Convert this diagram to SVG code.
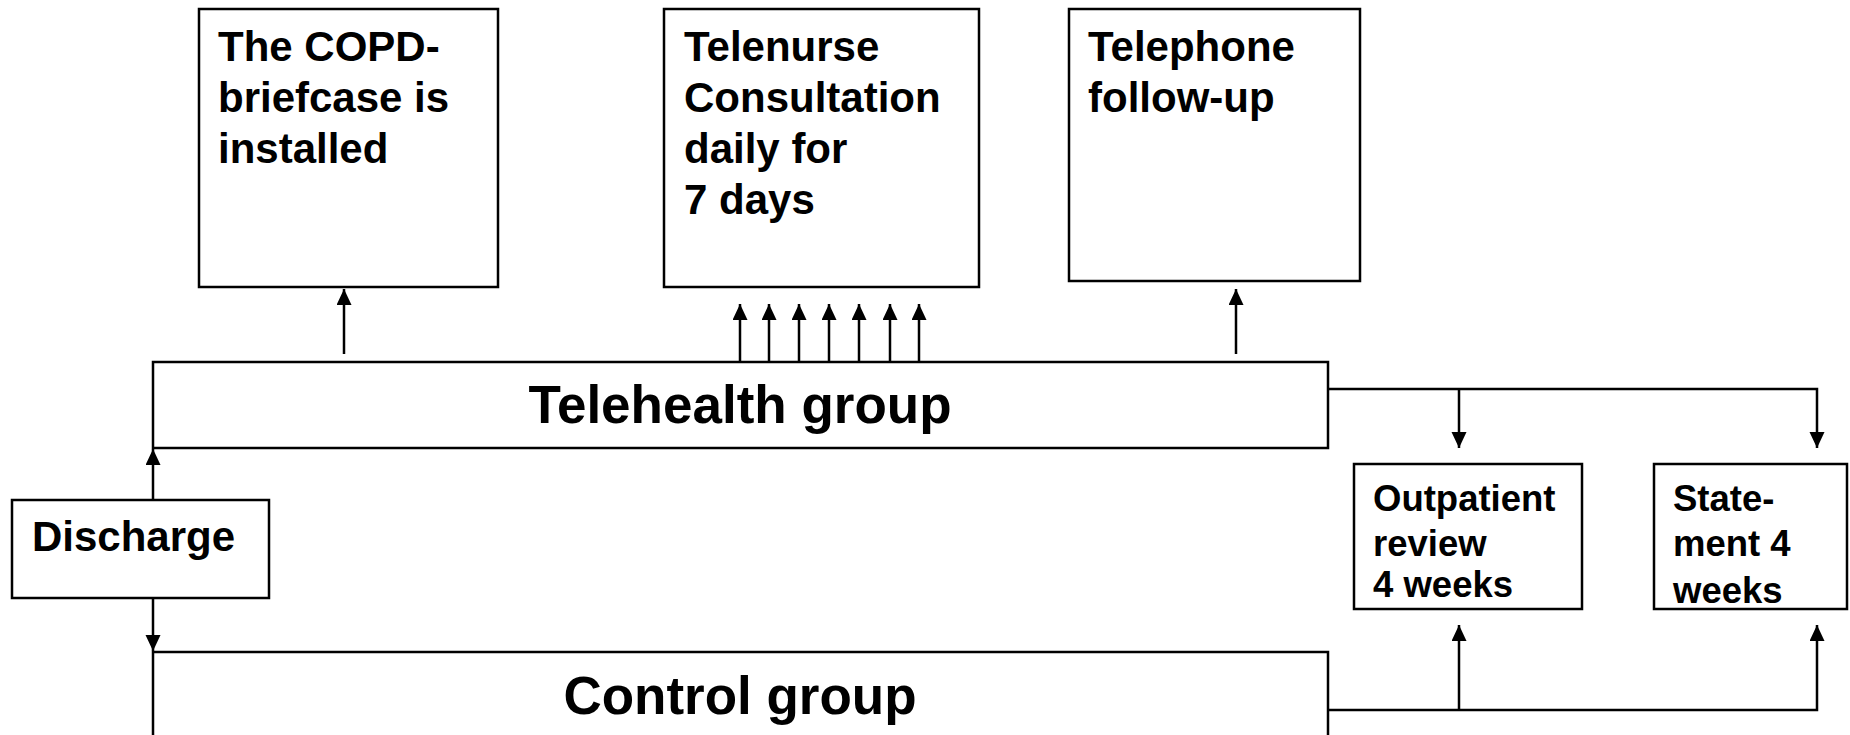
<svg xmlns="http://www.w3.org/2000/svg" width="1850" height="735" viewBox="0 0 1850 735">
<style>
.box{fill:#fff;stroke:#000;stroke-width:2.5}
.t{font-family:"Liberation Sans",Arial,sans-serif;font-weight:bold;fill:#000}
.big{font-size:53px}
.mid{font-size:42px}
.sm{font-size:36.5px}
.c{fill:none;stroke:#000;stroke-width:2.5}
</style>
<defs>
<marker id="ah" markerUnits="userSpaceOnUse" markerWidth="16" markerHeight="16" viewBox="0 0 16 16" refX="16" refY="7.5" orient="auto">
<path d="M0,0 L16,7.5 L0,15 z" fill="#000"/>
</marker>
</defs>
<rect width="1850" height="735" fill="#fff"/>
<g id="connectors">
<line class="c" x1="344" y1="354" x2="344" y2="289" marker-end="url(#ah)"/>
<line class="c" x1="740" y1="362" x2="740" y2="304" marker-end="url(#ah)"/>
<line class="c" x1="769" y1="362" x2="769" y2="304" marker-end="url(#ah)"/>
<line class="c" x1="799" y1="362" x2="799" y2="304" marker-end="url(#ah)"/>
<line class="c" x1="829" y1="362" x2="829" y2="304" marker-end="url(#ah)"/>
<line class="c" x1="859" y1="362" x2="859" y2="304" marker-end="url(#ah)"/>
<line class="c" x1="890" y1="362" x2="890" y2="304" marker-end="url(#ah)"/>
<line class="c" x1="919" y1="362" x2="919" y2="304" marker-end="url(#ah)"/>
<line class="c" x1="1236" y1="354" x2="1236" y2="289" marker-end="url(#ah)"/>
<polyline class="c" points="1328,389 1817,389 1817,448" marker-end="url(#ah)"/>
<line class="c" x1="1459" y1="389" x2="1459" y2="448" marker-end="url(#ah)"/>
<polyline class="c" points="1328,710 1817,710 1817,625" marker-end="url(#ah)"/>
<line class="c" x1="1459" y1="710" x2="1459" y2="625" marker-end="url(#ah)"/>
<line class="c" x1="153" y1="500" x2="153" y2="449" marker-end="url(#ah)"/>
<line class="c" x1="153" y1="598" x2="153" y2="651" marker-end="url(#ah)"/>
</g>
<g id="copd">
<rect class="box" x="199" y="9" width="299" height="278"/>
<text class="t mid" x="218" y="61">The COPD-</text>
<text class="t mid" x="218" y="112">briefcase is</text>
<text class="t mid" x="218" y="163">installed</text>
</g>
<g id="telenurse">
<rect class="box" x="664" y="9" width="315" height="278"/>
<text class="t mid" x="684" y="61">Telenurse</text>
<text class="t mid" x="684" y="112">Consultation</text>
<text class="t mid" x="684" y="163">daily for</text>
<text class="t mid" x="684" y="214">7 days</text>
</g>
<g id="telephone">
<rect class="box" x="1069" y="9" width="291" height="272"/>
<text class="t mid" x="1088" y="61">Telephone</text>
<text class="t mid" x="1088" y="112">follow-up</text>
</g>
<g id="telehealth">
<rect class="box" x="153" y="362" width="1175" height="86"/>
<text class="t big" x="740" y="423" text-anchor="middle">Telehealth group</text>
</g>
<g id="control">
<rect class="box" x="153" y="652" width="1175" height="86"/>
<text class="t big" x="740" y="714" text-anchor="middle">Control group</text>
</g>
<g id="discharge">
<rect class="box" x="12" y="500" width="257" height="98"/>
<text class="t mid" x="32" y="551">Discharge</text>
</g>
<g id="outpatient">
<rect class="box" x="1354" y="464" width="228" height="145"/>
<text class="t sm" x="1373" y="511">Outpatient</text>
<text class="t sm" x="1373" y="556">review</text>
<text class="t sm" x="1373" y="597">4 weeks</text>
</g>
<g id="statement">
<rect class="box" x="1654" y="464" width="193" height="145"/>
<text class="t sm" x="1673" y="511">State-</text>
<text class="t sm" x="1673" y="556">ment 4</text>
<text class="t sm" x="1673" y="603">weeks</text>
</g>
</svg>
